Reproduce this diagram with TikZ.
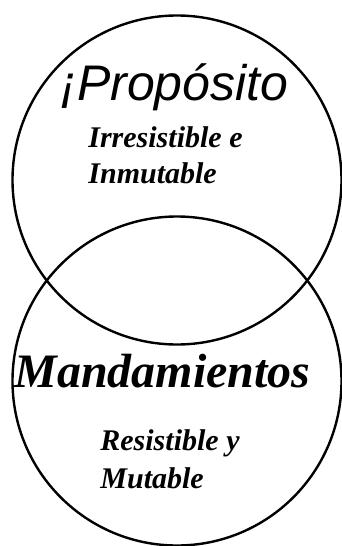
\documentclass[tikz,border=0pt]{standalone}
\usepackage{fontspec}
\setmainfont{Liberation Serif}
\newfontfamily\arialfont{Liberation Sans}
\usetikzlibrary{positioning}

\begin{document}
\begin{tikzpicture}[x=1pt,y=-1pt,thick]
    \tikzstyle{ring}=[circle, draw, line width=2.4pt, minimum size=329pt, inner sep=0pt]
    \tikzstyle{title}=[inner sep=0pt, anchor=base west]
    \tikzstyle{small}=[inner sep=0pt, anchor=base west, font=\fontsize{30}{32}\selectfont\bfseries\itshape]

    \useasboundingbox (0,0) rectangle (341,546);

    % the two circles
    \node[ring] (proposito) at (177,180) {};
    \node[ring] (mandamientos) at (177,381) {};

    % top circle
    \node[title, font=\arialfont\fontsize{50}{52}\selectfont\itshape] (ptitle) at (60,100) {¡Propósito};
    \node[small] (p1) at (88,147) {Irresistible e};
    \node[small] (p2) at (88,183) {Inmutable};

    % bottom circle
    \node[title, font=\fontsize{48}{50}\selectfont\bfseries\itshape] (mtitle) at (14,387) {Mandamientos};
    \node[small] (m1) at (100,450) {Resistible y};
    \node[small] (m2) at (100,488) {Mutable};
\end{tikzpicture}
\end{document}
